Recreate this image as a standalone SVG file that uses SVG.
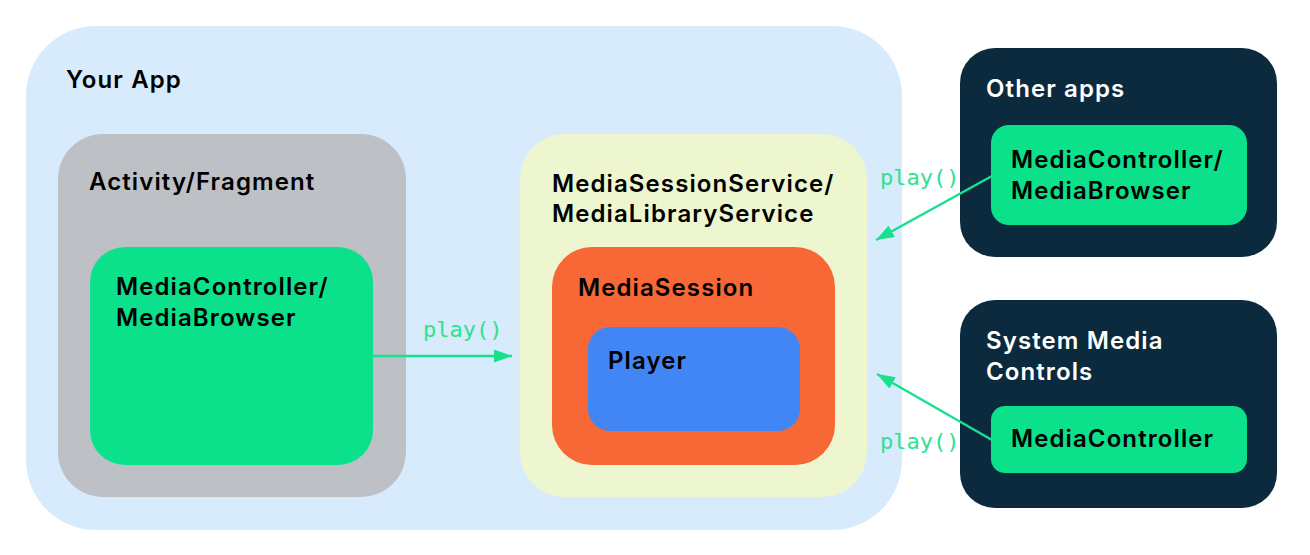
<svg xmlns="http://www.w3.org/2000/svg" width="1310" height="555" viewBox="0 0 1310 555">
<defs>
<style>
.h{font-family:Inter,"Open Sans","Liberation Sans",sans-serif;font-weight:600;font-size:24px;letter-spacing:1.1px;fill:#000}
.w{fill:#fff}
.code{font-family:"DejaVu Sans Mono","Liberation Mono",monospace;font-size:22px;fill:#2fe08e}
.green{fill:#0be18a}
.dark{fill:#0b2a3e}
.conn{stroke:#18e08f;stroke-width:2.5;fill:none}
</style>
<marker id="ahb" markerWidth="18" markerHeight="13" refX="18" refY="6.5" orient="auto" markerUnits="userSpaceOnUse" viewBox="0 0 18 13">
<path d="M0,0 L18,6.5 L0,13 z" fill="#18e08f"/>
</marker>
</defs>
<rect width="1310" height="555" fill="#fff"/>
<g id="your-app">
<rect x="26" y="26" width="876" height="504" rx="70" fill="#d7ebfc"/>
<text class="h" x="66" y="88">Your App</text>
</g>
<g id="activity">
<rect x="58" y="134" width="348" height="363" rx="45" fill="#bdc1c6"/>
<text class="h" x="89" y="190">Activity/Fragment</text>
</g>
<g id="controller-local">
<rect x="90" y="247" width="283" height="218" rx="35" class="green"/>
<text class="h" x="116" y="295">MediaController/</text>
<text class="h" x="116" y="326">MediaBrowser</text>
</g>
<g id="service">
<rect x="520" y="134" width="347" height="363" rx="45" fill="#edf6cf"/>
<text class="h" x="552" y="192">MediaSessionService/</text>
<text class="h" x="552" y="222">MediaLibraryService</text>
</g>
<g id="session">
<rect x="552" y="247" width="283" height="218" rx="40" fill="#f86836"/>
<text class="h" x="578" y="296">MediaSession</text>
</g>
<g id="player">
<rect x="588" y="327" width="212" height="104" rx="22" fill="#4285f4"/>
<text class="h" x="608" y="369">Player</text>
</g>
<g id="other-apps">
<rect x="960" y="48" width="317" height="209" rx="35" class="dark"/>
<text class="h w" x="986" y="97">Other apps</text>
<rect x="991" y="125" width="256" height="100" rx="18" class="green"/>
<text class="h" x="1011" y="168">MediaController/</text>
<text class="h" x="1011" y="199">MediaBrowser</text>
</g>
<g id="system-controls">
<rect x="960" y="300" width="317" height="208" rx="35" class="dark"/>
<text class="h w" x="986" y="349">System Media</text>
<text class="h w" x="986" y="380">Controls</text>
<rect x="991" y="406" width="256" height="67" rx="14" class="green"/>
<text class="h" x="1011" y="447">MediaController</text>
</g>
<g id="connectors">
<line class="conn" x1="373" y1="356" x2="512" y2="356" marker-end="url(#ahb)"/>
<text class="code" x="423" y="337">play()</text>
<line class="conn" x1="992" y1="176" x2="876" y2="240" marker-end="url(#ahb)"/>
<text class="code" x="880" y="185">play()</text>
<line class="conn" x1="992" y1="440" x2="877" y2="374" marker-end="url(#ahb)"/>
<text class="code" x="880" y="449">play()</text>
</g>
</svg>
